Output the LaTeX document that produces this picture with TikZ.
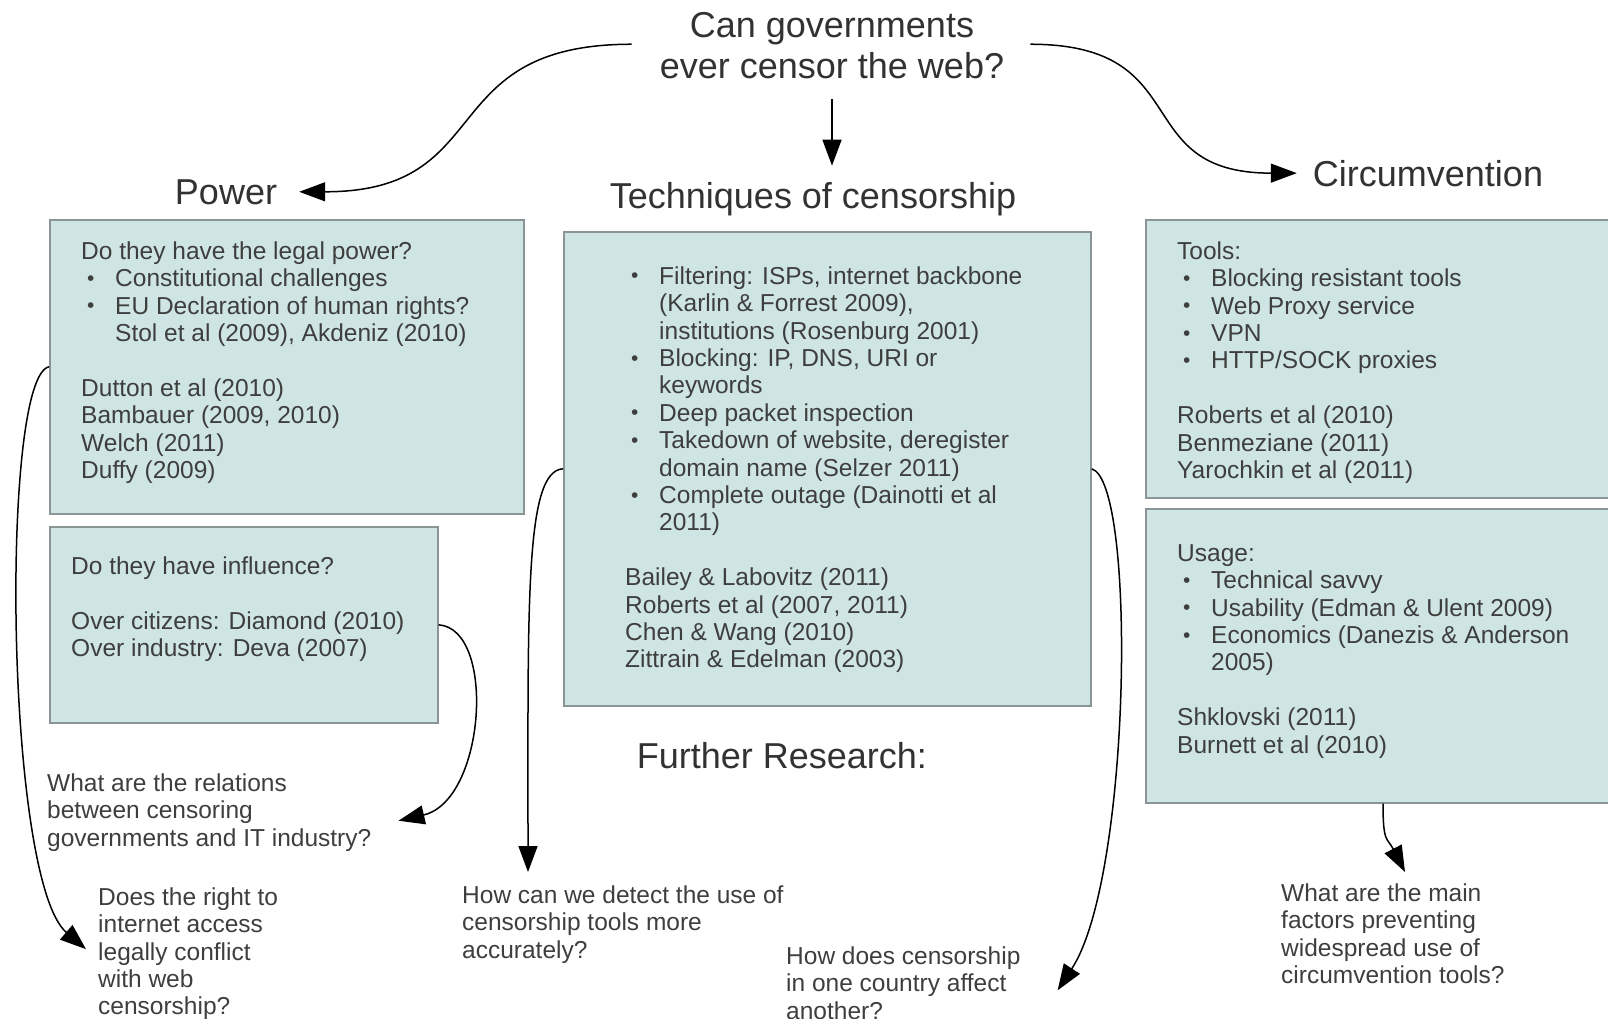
\documentclass[tikz,border=0pt]{standalone}
\usepackage{fontspec}
\usepackage{graphicx}
\setmainfont{Liberation Sans}
\usetikzlibrary{arrows.meta}
\definecolor{boxfill}{RGB}{206,229,228}
\definecolor{boxline}{RGB}{138,148,148}
\definecolor{ink}{RGB}{62,62,62}
\definecolor{headink}{RGB}{50,50,50}
\newcommand{\bul}{\hspace*{6pt}\makebox[28pt][l]{\raisebox{1.5pt}{\scalebox{0.85}{•}}}}
\newcommand{\ind}{\hspace*{34pt}}

\begin{document}
\begin{tikzpicture}[x=1pt,y=-1pt]
            \tikzset{
                box/.style={draw=boxline, fill=boxfill, line width=1.6pt, anchor=north west, inner sep=0pt},
                body/.style={anchor=north west, inner sep=0pt, align=left, text=ink, font=\fontsize{24.5}{27.4}\selectfont},
                head/.style={inner sep=0pt, text=headink, font=\fontsize{36}{41}\selectfont},
                arr/.style={-{Triangle[length=26pt,width=19pt]}, line width=1.5pt, black}
            }
            \useasboundingbox (0,0) rectangle (1608,1018);
            \clip (0,0) rectangle (1608,1018);

            % headings
            \draw node[head, align=center, anchor=north] (title) at (832,9) {\strut Can governments\\ever censor the web?};
            \draw node[head, anchor=base] (power) at (226,204) {Power};
            \draw node[head, anchor=base] (tech) at (813,208) {Techniques of censorship};
            \draw node[head, anchor=base] (circ) at (1428,186) {Circumvention};
            \draw node[head, anchor=base] (further) at (782,768) {Further Research:};

            % boxes
            \draw node[box, minimum width=474pt, minimum height=294pt] (legal) at (49,219) {};
            \draw node[box, minimum width=388pt, minimum height=196pt] (infl) at (49,526) {};
            \draw node[box, minimum width=527pt, minimum height=474pt] (techbox) at (563,231) {};
            \draw node[box, minimum width=480pt, minimum height=278pt] (tools) at (1145,219) {};
            \draw node[box, minimum width=480pt, minimum height=294pt] (usage) at (1145,508) {};

            % box texts
            \draw node[body] (legaltxt) at (81,240) {\strut Do they have the legal power?\\
                \bul Constitutional challenges\\
                \bul EU Declaration of human rights?\\
                \ind Stol et al (2009), Akdeniz (2010)\\[27.4pt]
                Dutton et al (2010)\\
                Bambauer (2009, 2010)\\
                Welch (2011)\\
                Duffy (2009)};
            \draw node[body] (infltxt) at (71,555) {\strut Do they have influence?\\[27.4pt]
                Over citizens: Diamond (2010)\\
                Over industry: Deva (2007)};
            \draw node[body] (techtxt) at (625,265) {\strut
                \bul Filtering: ISPs, internet backbone\\
                \ind (Karlin \& Forrest 2009),\\
                \ind institutions (Rosenburg 2001)\\
                \bul Blocking: IP, DNS, URI or\\
                \ind keywords\\
                \bul Deep packet inspection\\
                \bul Takedown of website, deregister\\
                \ind domain name (Selzer 2011)\\
                \bul Complete outage (Dainotti et al\\
                \ind 2011)\\[27.4pt]
                Bailey \& Labovitz (2011)\\
                Roberts et al (2007, 2011)\\
                Chen \& Wang (2010)\\
                Zittrain \& Edelman (2003)};
            \draw node[body] (toolstxt) at (1177,240) {\strut Tools:\\
                \bul Blocking resistant tools\\
                \bul Web Proxy service\\
                \bul VPN\\
                \bul HTTP/SOCK proxies\\[27.4pt]
                Roberts et al (2010)\\
                Benmeziane (2011)\\
                Yarochkin et al (2011)};
            \draw node[body] (usagetxt) at (1177,542) {\strut Usage:\\
                \bul Technical savvy\\
                \bul Usability (Edman \& Ulent 2009)\\
                \bul Economics (Danezis \& Anderson\\
                \ind 2005)\\[27.4pt]
                Shklovski (2011)\\
                Burnett et al (2010)};

            % further research questions
            \draw node[body] (rel) at (47,772) {\strut What are the relations\\between censoring\\governments and IT industry?};
            \draw node[body] (right) at (98,886) {\strut Does the right to\\internet access\\legally conflict\\with web\\censorship?};
            \draw node[body] (detect) at (462,884) {\strut How can we detect the use of\\censorship tools more\\accurately?};
            \draw node[body] (affect) at (786,945) {\strut How does censorship\\in one country affect\\another?};
            \draw node[body] (main) at (1281,882) {\strut What are the main\\factors preventing\\widespread use of\\circumvention tools?};

            % connectors
            \draw[arr] ([xshift=-28pt]title.west) .. controls +(-200,0) and +(200,0) .. ([xshift=22pt]power.east);
            \draw[arr, shorten <=20pt, shorten >=16pt] (title.south) -- (title.south |- tech.north);
            \draw[arr] ([xshift=26pt]title.east) .. controls +(168,0) and +(-170,0) .. ([xshift=-16pt]circ.west);
            \draw[arr] (legal.west) .. controls +(-49,10) and +(-81,-69) .. ([xshift=-12pt,yshift=4pt]right.west);
            \draw[arr] (infl.east) .. controls +(58,4) and +(87,-20) .. ([xshift=27pt,yshift=-9pt]rel.east);
            \draw[arr] (techbox.west) .. controls +(-38,2) and +(0,-272) .. ([xshift=66pt,yshift=12pt]detect.north west);
            \draw[arr] (techbox.east) .. controls +(45,12) and +(74,-113) .. ([xshift=37pt,yshift=-8pt]affect.east);
            \draw[arr] ([xshift=238pt]usage.south west) .. controls +(0,40) and +(-18,-35) .. ([xshift=124pt,yshift=10pt]main.north west);
        \end{tikzpicture}
\end{document}
